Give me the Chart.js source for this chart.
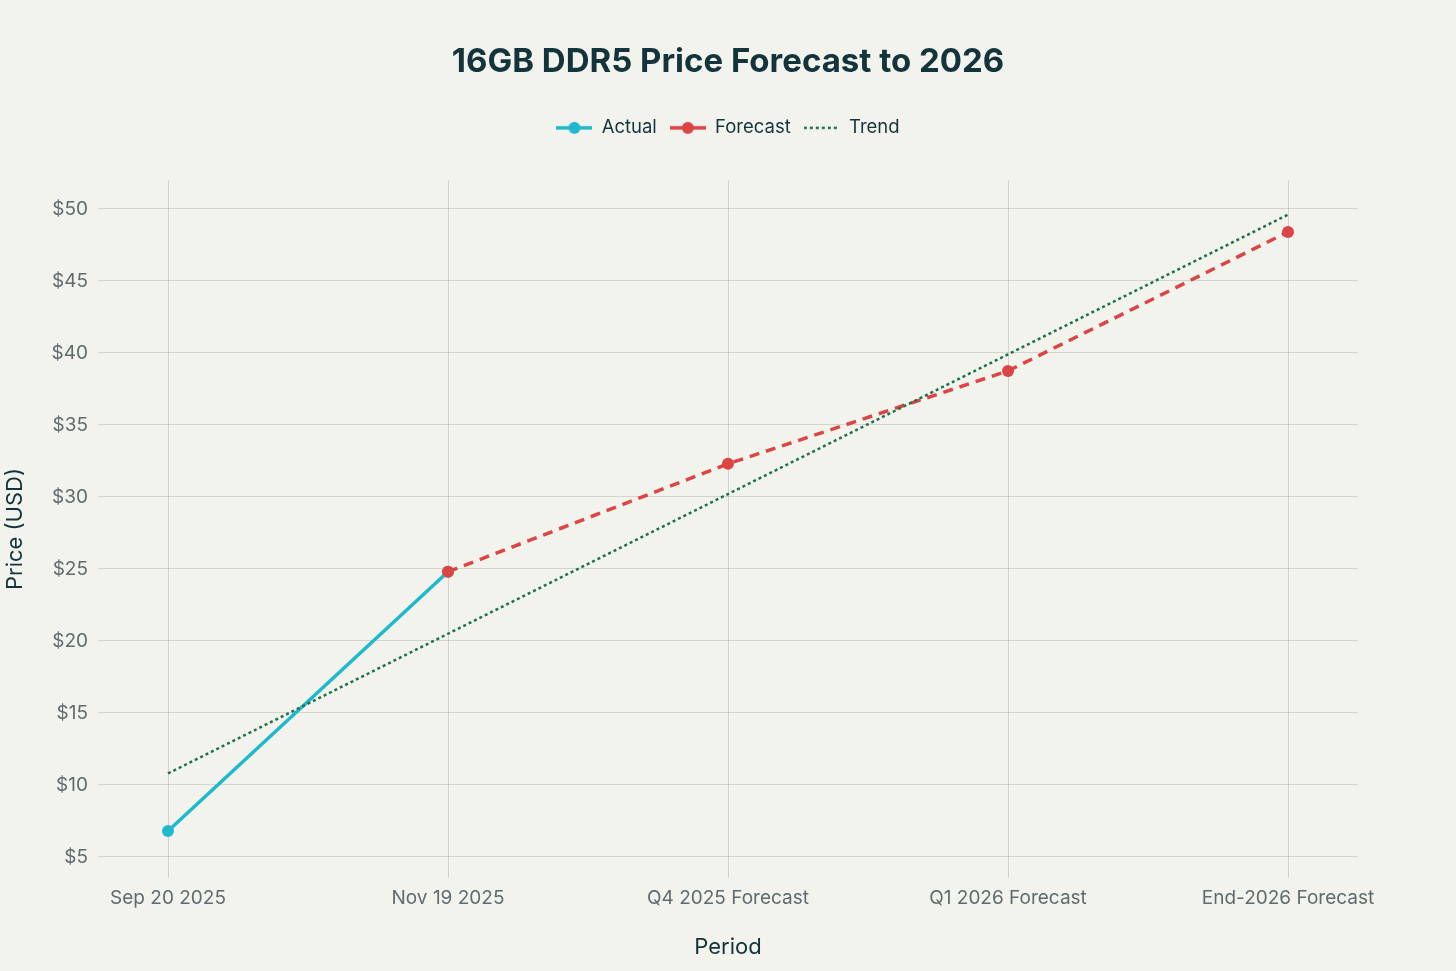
<!DOCTYPE html>
<html lang="en">
<head>
  <meta charset="UTF-8">
  <title>16GB DDR5 Price Forecast to 2026</title>
  <script src="https://cdn.jsdelivr.net/npm/chart.js"></script>
  <style>
    html, body {
      margin: 0;
      width: 100%;
      height: 100%;
      background-color: #F3F3EE;
      overflow: hidden;
    }

    #chart-container {
      position: relative;
      width: 1456px;
      height: 971px;
    }
  </style>
</head>
<body>
  <div id="chart-container">
    <canvas id="priceChart"></canvas>
  </div>

  <script>
    const periods = ["Sep 20 2025", "Nov 19 2025", "Q4 2025 Forecast", "Q1 2026 Forecast", "End-2026 Forecast"];
    const actualPrices = [6.8, 24.8, null, null, null];
    const forecastPrices = [null, 24.8, 32.3, 38.75, 48.4];
    const trendPrices = [10.8, 20.5, 30.2, 39.9, 49.6];
    const yTicks = [5, 10, 15, 20, 25, 30, 35, 40, 45, 50];

    const textColor = "#13343B";
    const tickColor = "#5F6B6E";
    const gridColor = "rgba(120, 120, 110, 0.25)";
    const fontFamily = "Inter, 'Noto Sans', sans-serif";

    // small line+marker swatches for the legend
    function makeSwatch(color, width, dash, withDot) {
      const c = document.createElement("canvas");
      c.width = 36;
      c.height = 14;
      const g = c.getContext("2d");
      g.strokeStyle = color;
      g.lineWidth = width;
      g.setLineDash(dash);
      g.beginPath();
      g.moveTo(0, 7);
      g.lineTo(36, 7);
      g.stroke();
      if (withDot) {
        g.fillStyle = color;
        g.beginPath();
        g.arc(18, 7, 6, 0, Math.PI * 2);
        g.fill();
      }
      return c;
    }

    // extra room between the legend and the plot
    const legendSpacer = {
      id: "legendSpacer",
      beforeInit(chart) {
        const origFit = chart.legend.fit;
        chart.legend.fit = function () {
          origFit.bind(chart.legend)();
          this.height += 33;
        };
      }
    };

    const toPoints = arr => arr.map((v, i) => ({ x: i, y: v }));

    const ctx = document.getElementById("priceChart").getContext("2d");

    const chart = new Chart(ctx, {
      type: "line",
      plugins: [legendSpacer],
      data: {
        datasets: [
          {
            label: "Actual",
            data: toPoints(actualPrices),
            borderColor: "#1FB8CD",
            backgroundColor: "#1FB8CD",
            borderWidth: 3.5,
            pointRadius: 6,
            pointHoverRadius: 6,
            pointBorderWidth: 0,
            tension: 0,
            spanGaps: false,
            order: 3,
            swatch: makeSwatch("#1FB8CD", 3.5, [], true)
          },
          {
            label: "Forecast",
            data: toPoints(forecastPrices),
            borderColor: "#DB4545",
            backgroundColor: "#DB4545",
            borderWidth: 3.5,
            borderDash: [10, 7],
            pointRadius: 6,
            pointHoverRadius: 6,
            pointBorderWidth: 0,
            tension: 0,
            order: 2,
            swatch: makeSwatch("#DB4545", 3.5, [], true)
          },
          {
            label: "Trend",
            data: toPoints(trendPrices),
            borderColor: "#1E7148",
            backgroundColor: "#1E7148",
            borderWidth: 2.5,
            borderDash: [3, 3],
            pointRadius: 0,
            pointHoverRadius: 0,
            tension: 0,
            order: 1,
            swatch: makeSwatch("#1E7148", 2.5, [3, 3], false)
          }
        ]
      },
      options: {
        responsive: true,
        maintainAspectRatio: false,
        animation: false,
        layout: {
          padding: 0
        },
        scales: {
          x: {
            type: "linear",
            min: -0.25,
            max: 4.25,
            afterBuildTicks: scale => {
              scale.ticks = periods.map((p, i) => ({ value: i }));
            },
            afterFit: scale => { scale.height = 93; },
            ticks: {
              color: tickColor,
              font: { family: fontFamily, size: 19 },
              padding: 9,
              autoSkip: false,
              maxRotation: 0,
              callback: value => periods[value]
            },
            grid: { color: gridColor, drawTicks: false },
            border: { display: false },
            title: {
              display: true,
              text: "Period",
              color: textColor,
              font: { family: fontFamily, size: 22 },
              padding: { top: 0, bottom: 10 }
            }
          },
          y: {
            min: 3.54,
            max: 52,
            afterBuildTicks: scale => {
              scale.ticks = yTicks.map(v => ({ value: v }));
            },
            afterFit: scale => { scale.width = 98; },
            ticks: {
              color: tickColor,
              font: { family: fontFamily, size: 19 },
              padding: 10,
              callback: value => "$" + value
            },
            grid: { color: gridColor, drawTicks: false },
            border: { display: false },
            title: {
              display: true,
              text: "Price (USD)",
              color: textColor,
              font: { family: fontFamily, size: 22 },
              padding: { top: 2, bottom: 0 }
            }
          },
          // empty axis on the right to keep the plot clear of the edge
          yRight: {
            position: "right",
            min: 3.54,
            max: 52,
            afterFit: scale => { scale.width = 98; },
            ticks: { display: false },
            grid: { display: false },
            border: { display: false }
          }
        },
        plugins: {
          title: {
            display: true,
            text: "16GB DDR5 Price Forecast to 2026",
            color: textColor,
            font: { family: fontFamily, size: 33, weight: "700" },
            padding: { top: 42, bottom: 24 }
          },
          legend: {
            display: true,
            position: "top",
            labels: {
              color: textColor,
              font: { family: fontFamily, size: 18.5 },
              usePointStyle: true,
              pointStyleWidth: 36,
              padding: 13,
              generateLabels: c => c.data.datasets.map((ds, i) => ({
                text: ds.label,
                fontColor: textColor,
                pointStyle: ds.swatch,
                strokeStyle: ds.borderColor,
                fillStyle: ds.borderColor,
                lineWidth: 0,
                hidden: false,
                datasetIndex: i
              }))
            }
          },
          tooltip: { enabled: false }
        }
      }
    });
  </script>
</body>
</html>
